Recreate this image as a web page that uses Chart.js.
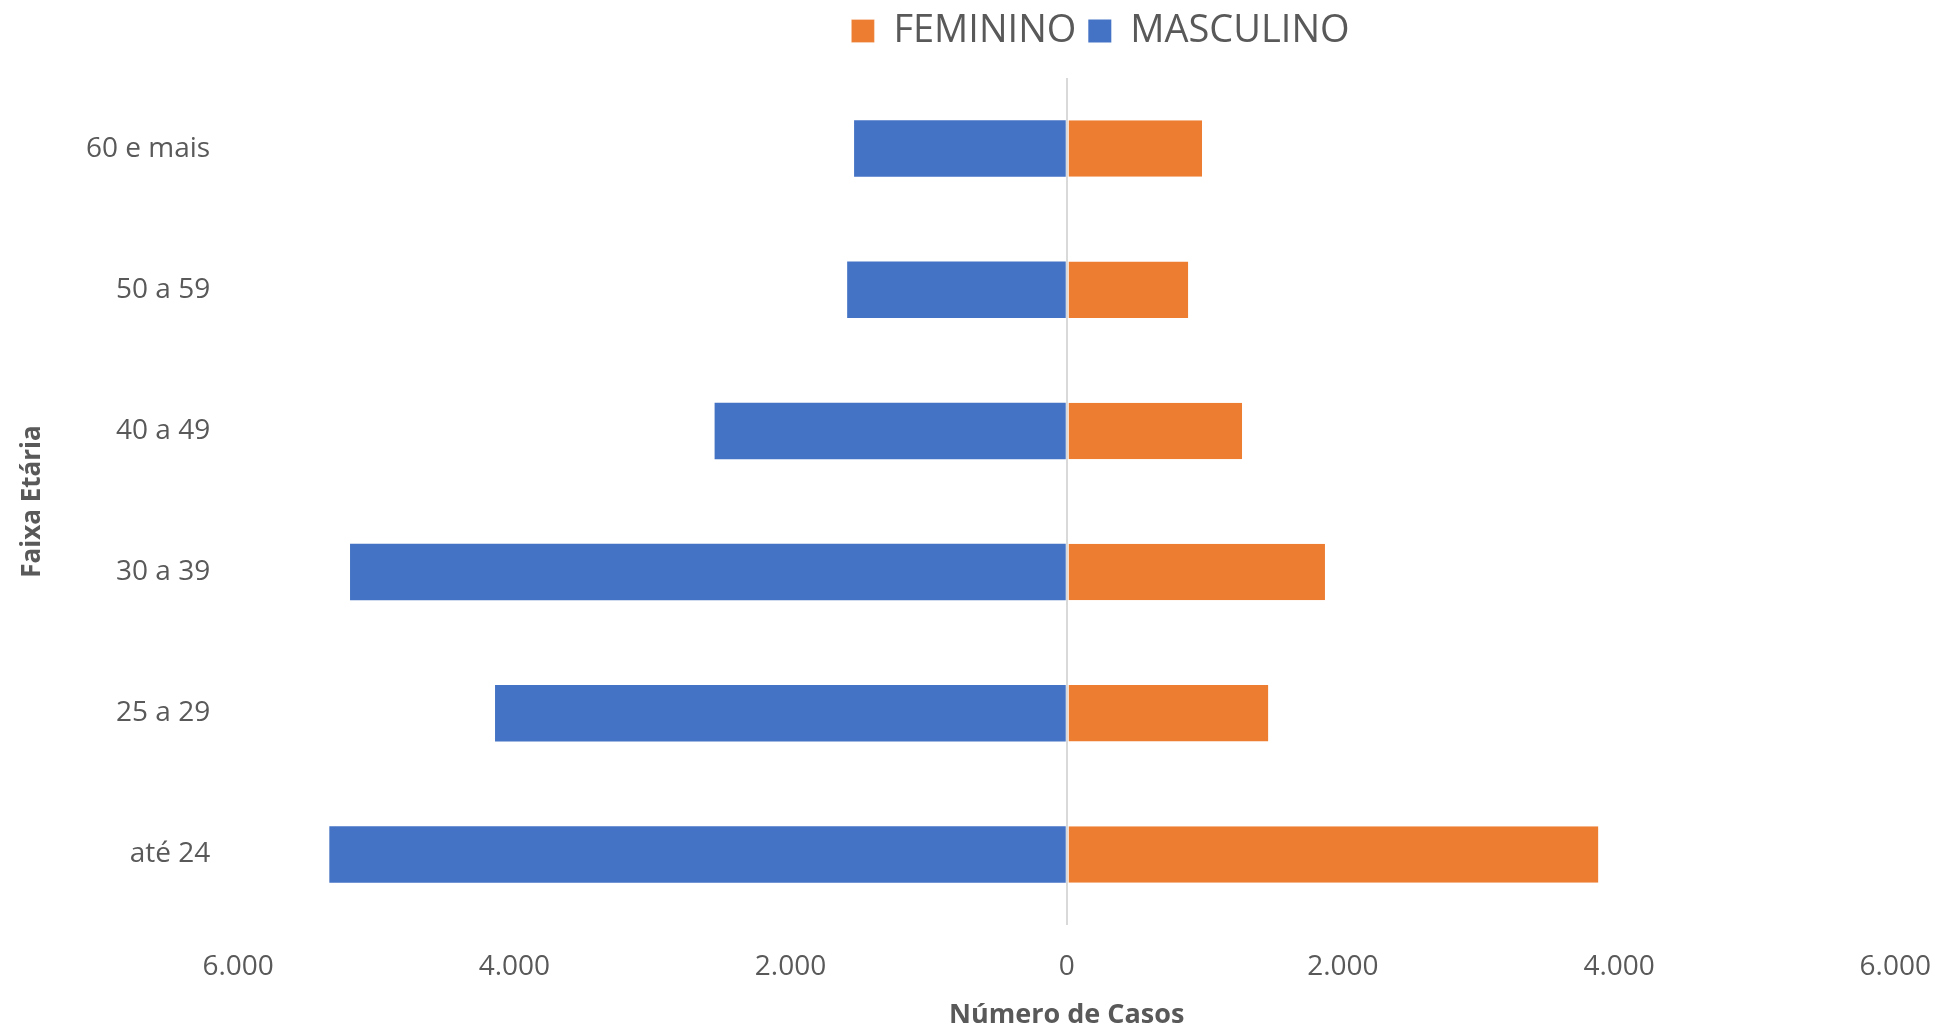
<!DOCTYPE html>
<html>
<head>
<meta charset="utf-8">
<script src="https://cdn.jsdelivr.net/npm/chart.js@4/dist/chart.umd.min.js"></script>
<style>
  html, body { margin: 0; padding: 0; background: #fff; }
  #wrap { width: 1959px; height: 1029px; position: relative; }
</style>
</head>
<body>
<div id="wrap"><canvas id="chart-piramide"></canvas></div>
<script>
// Faixas etárias (de cima para baixo)
const faixas     = ['60 e mais', '50 a 59', '40 a 49', '30 a 39', '25 a 29', 'até 24'];
const feminino   = [980, 880, 1270, 1870, 1460, 3850];
const masculino  = [1540, 1590, 2550, 5190, 4140, 5340];
const xTicks     = [-6000, -4000, -2000, 0, 2000, 4000, 6000];

const corTexto = '#595959';
const fonte    = '"Open Sans", "Liberation Sans", sans-serif';

// formato pt-BR: 6.000
const fmtNum = v => Math.abs(v).toString().replace(/\B(?=(\d{3})+(?!\d))/g, '.');

// legenda um pouco à direita e com mais espaço abaixo (como no Excel)
const legendaAjuste = {
  id: 'legendaAjuste',
  beforeInit(chart) {
    const fitOrig = chart.legend.fit;
    chart.legend.fit = function () {
      fitOrig.bind(chart.legend)();
      this.height += 18;
    };
  },
  afterLayout(chart) {
    const dx = 122;
    chart.legend.left += dx;
    chart.legend.right += dx;
  }
};

const ctx = document.getElementById('chart-piramide').getContext('2d');
new Chart(ctx, {
  type: 'bar',
  data: {
    labels: faixas,
    datasets: [
      {
        label: 'FEMININO',
        data: feminino,
        backgroundColor: '#ED7D31',
        borderColor: '#ffffff',
        borderWidth: { left: 1, right: 0, top: 0, bottom: 0 },
        borderSkipped: false,
        categoryPercentage: 0.4,
        barPercentage: 1
      },
      {
        label: 'MASCULINO',
        data: masculino.map(v => -v),
        backgroundColor: '#4472C4',
        borderWidth: 0,
        categoryPercentage: 0.4,
        barPercentage: 1
      }
    ]
  },
  plugins: [legendaAjuste],
  options: {
    indexAxis: 'y',
    responsive: true,
    maintainAspectRatio: false,
    animation: false,
    layout: { padding: { top: 0, right: 22, bottom: 0, left: 20 } },
    plugins: {
      legend: {
        position: 'top',
        labels: {
          color: corTexto,
          font: { family: fonte, size: 38 },
          boxWidth: 23,
          boxHeight: 23,
          padding: 12
        }
      },
      tooltip: { enabled: false }
    },
    scales: {
      x: {
        stacked: true,
        min: -6000,
        max: 6000,
        afterBuildTicks: axis => { axis.ticks = xTicks.map(v => ({ value: v })); },
        ticks: {
          color: corTexto,
          font: { family: fonte, size: 28, lineHeight: 1 },
          padding: 28,
          maxRotation: 0,
          callback: v => fmtNum(v)
        },
        grid: {
          drawTicks: false,
          color: c => c.tick && c.tick.value === 0 ? '#D9D9D9' : 'rgba(0,0,0,0)',
          lineWidth: 2
        },
        border: { display: false },
        title: {
          display: true,
          text: 'Número de Casos',
          color: corTexto,
          font: { family: fonte, size: 27, weight: 'bold', lineHeight: 1 },
          padding: { top: -7, bottom: 0 }
        }
      },
      y: {
        stacked: true,
        ticks: {
          color: corTexto,
          font: { family: fonte, size: 28 },
          padding: 28
        },
        grid: { display: false, drawTicks: false },
        border: { display: false },
        title: {
          display: true,
          text: 'Faixa Etária',
          color: corTexto,
          font: { family: fonte, size: 26, weight: 'bold', lineHeight: 1 },
          padding: { top: 0, bottom: 12 }
        }
      }
    }
  }
});
</script>
</body>
</html>
